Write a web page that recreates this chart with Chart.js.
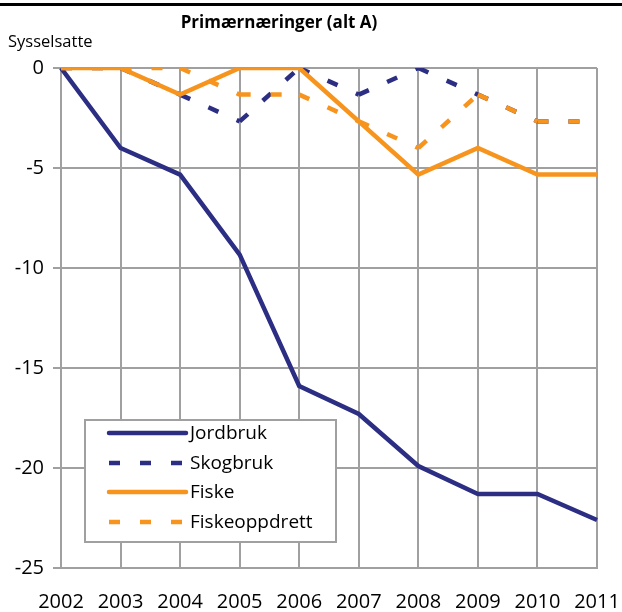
<!DOCTYPE html>
<html>
<head>
<meta charset="utf-8">
<script src="https://cdn.jsdelivr.net/npm/chart.js@4"></script>
<style>
  html, body { margin: 0; padding: 0; background: #fff; }
  #chart { display: block; }
</style>
</head>
<body>
<canvas id="chart" width="622" height="612"></canvas>
<script>
// values (change in number employed)
const years = ["2002", "2003", "2004", "2005", "2006", "2007", "2008", "2009", "2010", "2011"];
const jordbruk = [0, -4, -5.33, -9.33, -15.9, -17.3, -19.9, -21.3, -21.3, -22.6];
const skogbruk = [0, 0, -1.33, -2.67, 0, -1.33, 0, -1.33, -2.67, -2.67];
const fiske = [0, 0, -1.33, 0, 0, -2.67, -5.33, -4, -5.33, -5.33];
const fiskeoppdrett = [0, 0, 0, -1.33, -1.33, -2.67, -4, -1.33, -2.67, -2.67];

const titleText = "Primærnæringer (alt A)";
const yTitle = "Sysselsatte";

const navy = "#2B2E83";
const orange = "#F7941D";
const gridColor = "#A0A0A0";
const fontName = "'Open Sans', sans-serif";
const dash = [11, 20];
const dashPeriod = 31;

// dashes start again at every point, like the original (each segment gets its own path)
const dashSegment = {
  borderDashOffset: ctx => ctx.p0DataIndex * dashPeriod
};

// texts above the plot, the top rule and the legend box
const extras = {
  id: "extras",
  afterDraw(c) {
    const ctx = c.ctx;
    ctx.save();
    // black rule at the very top
    ctx.fillStyle = "#000";
    ctx.fillRect(0, 3, 622, 3);

    ctx.fillStyle = "#000";
    ctx.textBaseline = "alphabetic";
    ctx.font = "bold 17px " + fontName;
    ctx.textAlign = "center";
    ctx.fillText(titleText, 279, 28);

    ctx.font = "16.5px " + fontName;
    ctx.textAlign = "left";
    ctx.fillText(yTitle, 8, 47);

    // legend
    const bx = 85, by = 420, bw = 251, bh = 122;
    ctx.fillStyle = "#fff";
    ctx.fillRect(bx, by, bw, bh);
    ctx.strokeStyle = gridColor;
    ctx.lineWidth = 2;
    ctx.strokeRect(bx, by, bw, bh);

    const rows = [433, 463, 492, 522];
    c.data.datasets.forEach(function (ds, i) {
      const y = rows[i];
      ctx.beginPath();
      ctx.strokeStyle = ds.borderColor;
      ctx.lineWidth = 4.5;
      ctx.lineCap = ds.borderDash ? "butt" : "round";
      ctx.setLineDash(ds.borderDash || []);
      ctx.moveTo(109, y);
      ctx.lineTo(186, y);
      ctx.stroke();
      ctx.setLineDash([]);
      ctx.fillStyle = "#000";
      ctx.font = "19px " + fontName;
      ctx.textBaseline = "middle";
      ctx.textAlign = "left";
      ctx.fillText(ds.label, 190, y + 1);
    });
    ctx.restore();
  }
};

const chart = new Chart(document.getElementById("chart").getContext("2d"), {
  type: "line",
  data: {
    labels: years,
    datasets: [
      { label: "Jordbruk", data: jordbruk, borderColor: navy, borderWidth: 4.5, order: 4 },
      { label: "Skogbruk", data: skogbruk, borderColor: navy, borderWidth: 4.5, borderDash: dash, segment: dashSegment, order: 3 },
      { label: "Fiske", data: fiske, borderColor: orange, borderWidth: 4.5, order: 2 },
      { label: "Fiskeoppdrett", data: fiskeoppdrett, borderColor: orange, borderWidth: 4.5, borderDash: dash, segment: dashSegment, order: 1 }
    ]
  },
  options: {
    responsive: false,
    animation: false,
    layout: { padding: { top: 68, right: 25, left: 0, bottom: 0 } },
    elements: {
      line: { tension: 0, fill: false },
      point: { radius: 0, hoverRadius: 0 }
    },
    scales: {
      x: {
        offset: false,
        grid: { color: gridColor, lineWidth: 2, drawTicks: false },
        border: { color: gridColor, width: 2 },
        ticks: { color: "#000", font: { family: "Open Sans", size: 20 }, padding: 22, maxRotation: 0, autoSkip: false },
        afterFit(s) {
          s.height = 44;
          s.paddingLeft = 0;
          s.paddingRight = 0;
        }
      },
      y: {
        min: -25,
        max: 0,
        ticks: { stepSize: 5, color: "#000", font: { family: "Open Sans", size: 20 }, padding: 9 },
        grid: { color: gridColor, lineWidth: 2, tickLength: 8 },
        border: { color: gridColor, width: 2 },
        afterFit(s) {
          s.width = 61;
          s.paddingTop = 0;
          s.paddingBottom = 0;
        }
      }
    },
    plugins: {
      legend: { display: false },
      tooltip: { enabled: false },
      title: { display: false }
    }
  },
  plugins: [extras]
});
</script>
</body>
</html>
